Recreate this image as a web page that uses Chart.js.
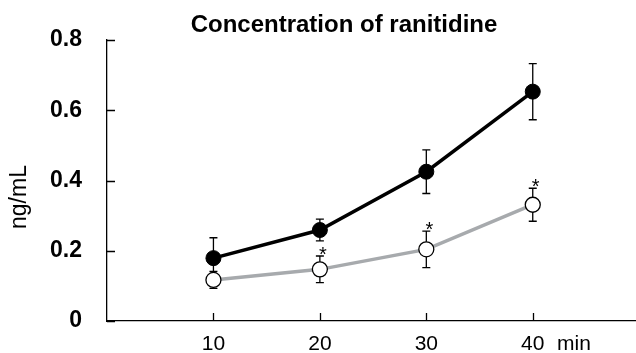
<!DOCTYPE html>
<html>
<head>
<meta charset="utf-8">
<script src="https://cdn.jsdelivr.net/npm/chart.js@4/dist/chart.umd.min.js"></script>
<style>
  body { margin: 0; background: #fff; }
  #wrap { width: 636px; height: 353px; position: relative; }
</style>
</head>
<body>
<div id="wrap"><canvas id="chart"></canvas></div>
<script>
// data
var times = [10, 20, 30, 40];
var yTicks = [0, 0.2, 0.4, 0.6, 0.8];
var controlMean = [0.179, 0.259, 0.425, 0.653];
var controlErr = [0.058, 0.031, 0.062, 0.08];
var treatedMean = [0.117, 0.147, 0.204, 0.331];
var treatedErr = [0.024, 0.038, 0.052, 0.047];
var treatedSig = [false, true, true, true];

var FONT = "'Liberation Sans', Arial, Helvetica, sans-serif";

function toPoints(means) {
    return times.map(function (t, i) { return { x: t, y: means[i] }; });
}

// error bars, tick marks, asterisks and free texts
var overlay = {
    id: 'overlay',
    beforeDatasetsDraw: function (chart) {
        var ctx = chart.ctx, xs = chart.scales.x, ys = chart.scales.y;
        ctx.save();
        ctx.strokeStyle = '#000';
        ctx.lineWidth = 1.3;
        chart.data.datasets.forEach(function (ds) {
            ds.data.forEach(function (p, i) {
                var px = xs.getPixelForValue(p.x);
                var top = ys.getPixelForValue(p.y + ds.err[i]);
                var bot = ys.getPixelForValue(p.y - ds.err[i]);
                ctx.beginPath();
                ctx.moveTo(px, top); ctx.lineTo(px, bot);
                ctx.moveTo(px - 4, top); ctx.lineTo(px + 4, top);
                ctx.moveTo(px - 4, bot); ctx.lineTo(px + 4, bot);
                ctx.stroke();
            });
        });
        ctx.restore();
    },
    afterDraw: function (chart) {
        var ctx = chart.ctx, xs = chart.scales.x, ys = chart.scales.y;
        var area = chart.chartArea;
        ctx.save();
        ctx.strokeStyle = '#000';
        ctx.lineWidth = 1.3;
        // inward tick marks
        ctx.beginPath();
        yTicks.forEach(function (v) {
            var py = Math.round(ys.getPixelForValue(v)) + 0.5;
            ctx.moveTo(area.left, py); ctx.lineTo(area.left + 8, py);
        });
        times.forEach(function (t) {
            var px = Math.round(xs.getPixelForValue(t)) + 0.5;
            ctx.moveTo(px, area.bottom); ctx.lineTo(px, area.bottom - 8);
        });
        ctx.stroke();

        // asterisks over the treated points
        var ds = chart.data.datasets[1];
        ctx.fillStyle = '#000';
        ctx.font = '20px ' + FONT;
        ctx.textAlign = 'center';
        ctx.textBaseline = 'middle';
        ds.data.forEach(function (p, i) {
            if (!treatedSig[i]) return;
            var px = xs.getPixelForValue(p.x);
            var top = ys.getPixelForValue(p.y + ds.err[i]);
            ctx.fillText('*', px + 3, top - 1);
        });

        // title
        ctx.font = 'bold 24px ' + FONT;
        ctx.textAlign = 'center';
        ctx.textBaseline = 'alphabetic';
        ctx.fillText('Concentration of ranitidine', 344, 32);

        // x unit
        ctx.font = '21px ' + FONT;
        ctx.textAlign = 'left';
        ctx.fillText('min', 557, 350);

        // y axis title
        ctx.translate(20, 197);
        ctx.rotate(-Math.PI / 2);
        ctx.font = '23px ' + FONT;
        ctx.textAlign = 'center';
        ctx.textBaseline = 'middle';
        ctx.fillText('ng/mL', 0, 0);
        ctx.restore();
    }
};

new Chart(document.getElementById('chart'), {
    type: 'line',
    data: {
        datasets: [{
            label: 'control',
            data: toPoints(controlMean),
            err: controlErr,
            borderColor: '#000',
            borderWidth: 3.5,
            pointRadius: 7.5,
            pointBackgroundColor: '#000',
            pointBorderColor: '#000',
            pointBorderWidth: 1,
            order: 1
        }, {
            label: 'treated',
            data: toPoints(treatedMean),
            err: treatedErr,
            borderColor: '#a7aaad',
            borderWidth: 3.5,
            pointRadius: 7.5,
            pointBackgroundColor: '#fff',
            pointBorderColor: '#000',
            pointBorderWidth: 1.3,
            order: 2
        }]
    },
    options: {
        responsive: true,
        maintainAspectRatio: false,
        animation: false,
        layout: { autoPadding: false, padding: { top: 40, left: 0, right: 0, bottom: 0 } },
        plugins: {
            legend: { display: false },
            tooltip: { enabled: false },
            title: { display: false }
        },
        scales: {
            x: {
                type: 'linear',
                min: 0,
                max: 49.7,
                afterBuildTicks: function (s) {
                    s.ticks = times.map(function (t) { return { value: t }; });
                },
                afterFit: function (s) { s.height = 32; s.paddingLeft = 0; s.paddingRight = 0; },
                grid: { display: false, drawTicks: false },
                border: { display: true, color: '#000', width: 1.3 },
                ticks: {
                    color: '#000',
                    padding: 11,
                    maxRotation: 0,
                    font: { family: FONT, size: 21 }
                }
            },
            y: {
                min: 0,
                max: 0.8,
                afterBuildTicks: function (s) {
                    s.ticks = yTicks.map(function (v) { return { value: v }; });
                },
                afterFit: function (s) { s.width = 107; s.paddingTop = 0; s.paddingBottom = 0; },
                grid: { display: false, drawTicks: false },
                border: { display: true, color: '#000', width: 1.3 },
                ticks: {
                    color: '#000',
                    padding: 25,
                    font: { family: FONT, size: 23, weight: 'bold' },
                    callback: function (v) { return v === 0 ? '0' : v.toFixed(1); }
                }
            }
        }
    },
    plugins: [overlay]
});
</script>
</body>
</html>
